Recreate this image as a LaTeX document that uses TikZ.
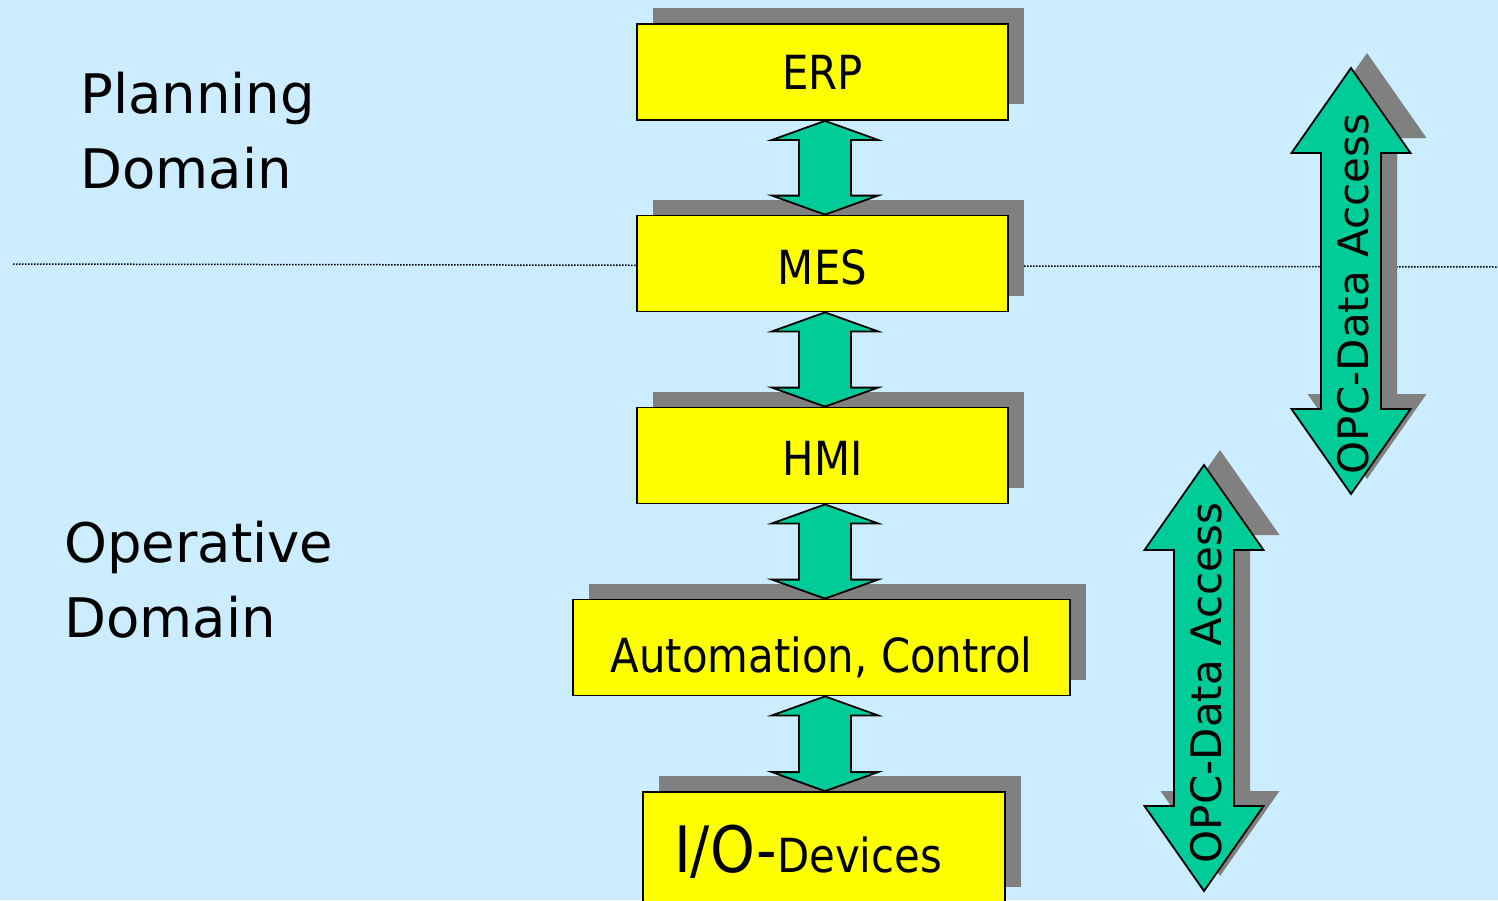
\documentclass[tikz,border=0pt]{standalone}
\usepackage{fontspec}
\setmainfont{DejaVu Sans}
\newfontfamily\boxfont{DejaVu Sans}[FakeStretch=0.89]
\usetikzlibrary{calc,shadows}
\definecolor{backblue}{HTML}{CCECFF}
\definecolor{layeryellow}{HTML}{FFFF00}
\definecolor{linkgreen}{HTML}{00CC99}
\definecolor{shadowgray}{HTML}{808080}
\tikzset{
  layer/.style={draw=black, line width=1.8pt, fill=layeryellow, inner sep=0pt,
    minimum height=96pt, font=\boxfont\fontsize{47}{50}\selectfont,
    text height=40pt, text depth=0pt,
    general shadow={shadow xshift=16pt, shadow yshift=16pt, fill=shadowgray}},
  linkarrow/.style={draw=black, line width=1.8pt, fill=linkgreen, line join=miter},
  opcshape/.style={draw=black, line width=1.8pt, fill=linkgreen, line join=miter,
    general shadow={shadow xshift=16pt, shadow yshift=15pt, fill=shadowgray}},
  opctext/.style={font=\fontsize{42}{45}\selectfont, rotate=90, anchor=base, inner sep=0pt},
  domainlabel/.style={anchor=base west, align=left, inner sep=0pt,
    font=\fontsize{54.5}{75}\selectfont},
  separator/.style={black, line width=1.5pt, dash pattern=on 1.5pt off 1.5pt},
  % vertical two-headed arrow hanging from its upper tip; #1 = label centre
  pics/opcarrow/.style={code={
    \path[opcshape] (0,0) -- (59.5,85) -- (30,85) -- (30,341) -- (59.5,341)
      -- (0,426) -- (-59.5,341) -- (-30,341) -- (-30,85) -- (-59.5,85) -- cycle;
    \node[opctext] (-label) at (17.5,#1) {OPC-Data Access};
  }}
}
% two-headed link between vertically stacked layers, centred on the axis
\newcommand\linkarrow[2]{%
  \draw[linkarrow] (#1.south -| axis) -- ++(53,19) -- ++(-27,0)
    -- ($(#2.north -| axis)+(26,-19)$) -- ++(27,0) -- (#2.north -| axis)
    -- ++(-53,-19) -- ++(27,0) -- ($(#1.south -| axis)+(-26,19)$)
    -- ++(-27,0) -- cycle;}
\begin{document}
\begin{tikzpicture}[x=1pt, y=-1pt]
  \useasboundingbox (0,0) rectangle (1498,900);
  \fill[backblue] (0,0) rectangle (1498,900);
  \coordinate (axis) at (825,0);

  % boundary between planning and operative domains
  \coordinate (sepL) at (13,264);
  \coordinate (sepR) at (1498,267);
  \draw[separator] (sepL) -- (sepR);

  % domain captions (anchored on the baseline of the second line)
  \node[domainlabel] (planning) at (80,188) {Planning\\Domain};
  \node[domainlabel] (operative) at (64,637) {Operative\\Domain};

  % automation pyramid layers
  \node[layer, minimum width=371pt, text height=34pt] (erp) at (822.5,72) {ERP};
  \node[layer, minimum width=371pt, text height=41pt] (mes) at (822.5,263.5) {MES};
  \node[layer, minimum width=371pt, text height=39pt] (hmi) at (822.5,455.5) {HMI};
  \node[layer, minimum width=497pt, text height=49pt] (auto) at (821.5,647.5) {Automation, Control};
  \node[layer, minimum width=362pt, minimum height=111pt, text height=49pt] (io) at (824,847.5)
    {{\fontsize{64}{70}\selectfont I/O-}Devices\hspace*{32pt}};

  % links between layers
  \linkarrow{erp}{mes}
  \linkarrow{mes}{hmi}
  \linkarrow{hmi}{auto}
  \linkarrow{auto}{io}

  % OPC data access spans
  \pic (opcA) at (1351,68) {opcarrow=226};
  \pic (opcB) at (1204,465) {opcarrow=218};
\end{tikzpicture}
\end{document}
